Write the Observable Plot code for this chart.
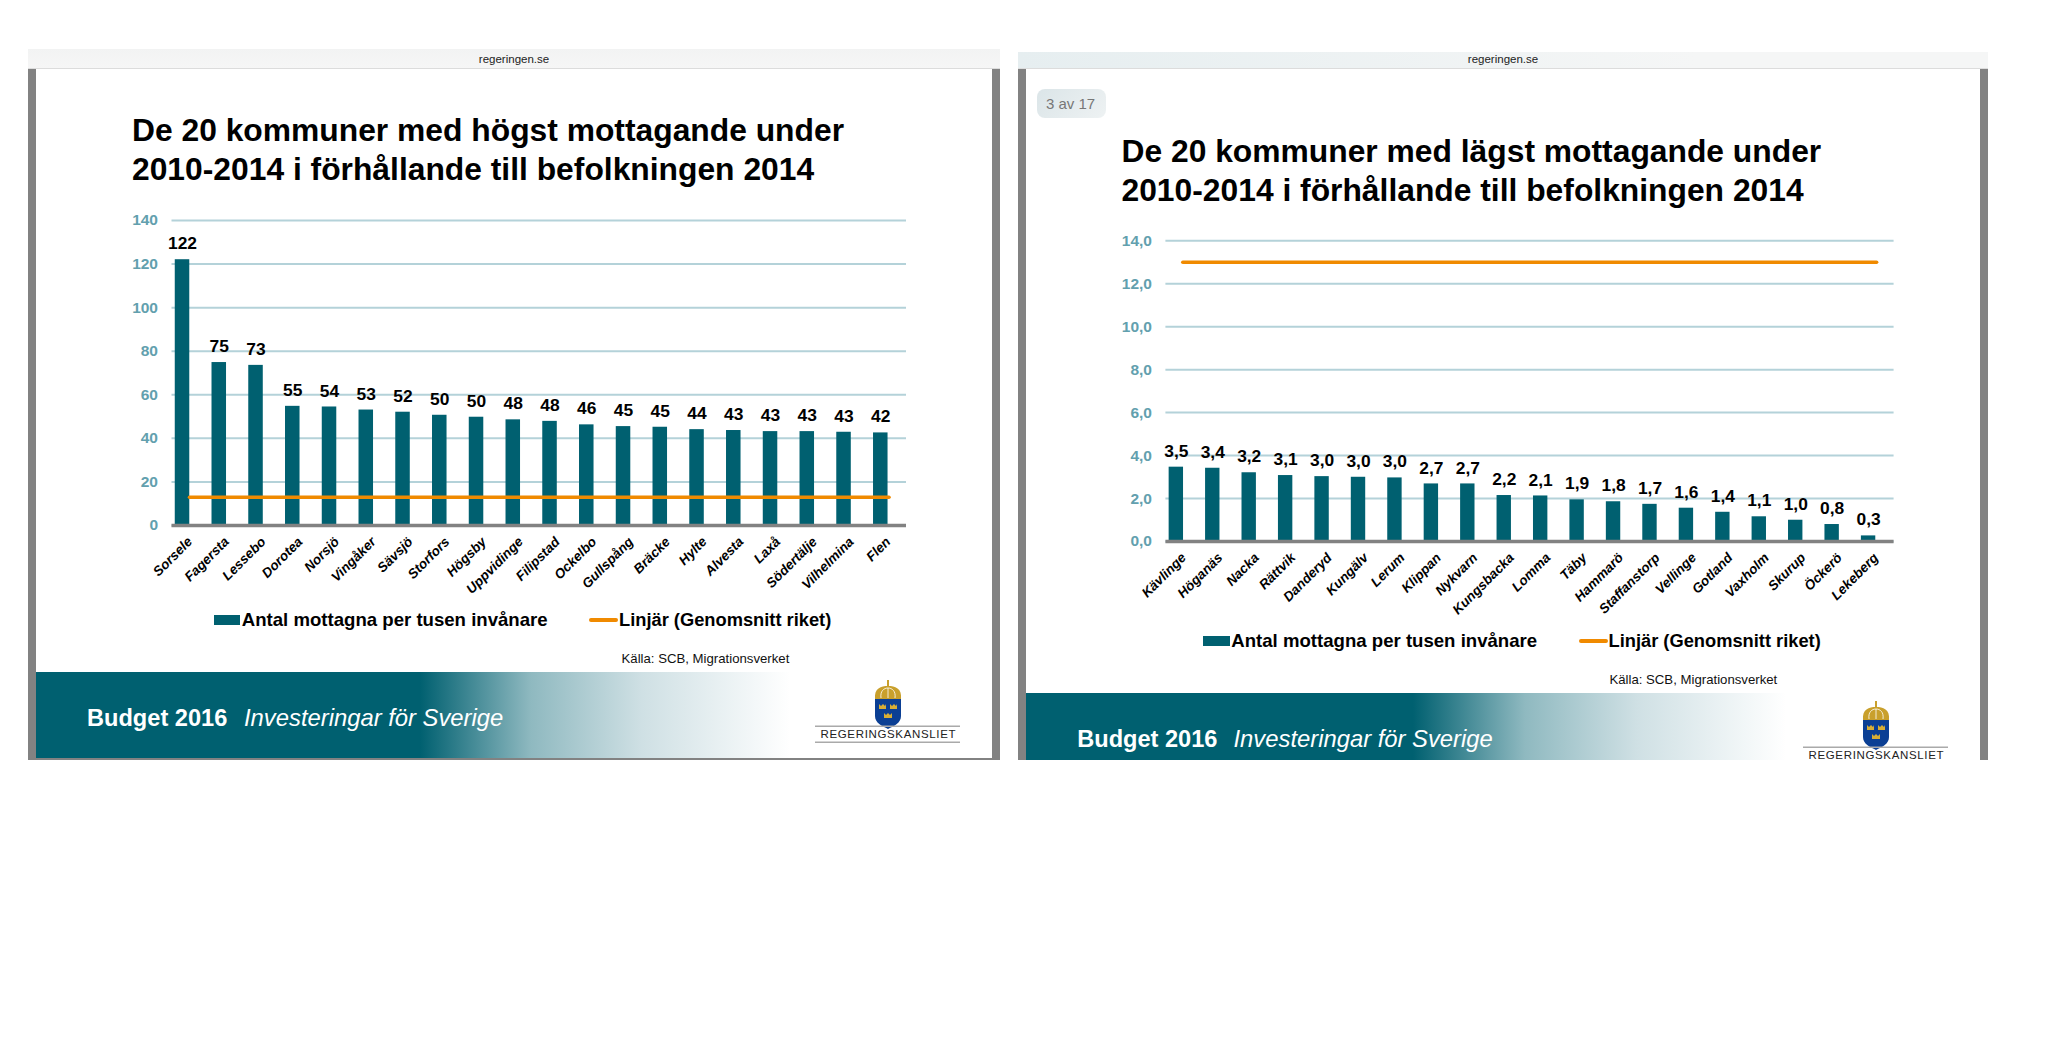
<!DOCTYPE html>
<html lang="sv"><head><meta charset="utf-8">
<script src="https://cdn.jsdelivr.net/npm/d3@7"></script>
<script src="https://cdn.jsdelivr.net/npm/@observablehq/plot@0.6"></script>
<style>
html,body{margin:0;padding:0;background:#fff;width:2047px;height:1061px;overflow:hidden;font-family:"Liberation Sans",Arial,sans-serif}
.abs{position:absolute;white-space:nowrap}
.abs svg{display:block}
</style></head><body>
<script>
const highNames = ["Sorsele","Fagersta","Lessebo","Dorotea","Norsjö","Vingåker","Sävsjö","Storfors","Högsby","Uppvidinge","Filipstad","Ockelbo","Gullspång","Bräcke","Hylte","Alvesta","Laxå","Södertälje","Vilhelmina","Flen"];
const highValues = [122,74.8,73.5,54.7,54.4,53,52,50.6,49.7,48.5,47.8,46.2,45.4,45.1,44,43.6,43.1,43.1,42.8,42.5];
const highLabels = ["122","75","73","55","54","53","52","50","50","48","48","46","45","45","44","43","43","43","43","42"];
const highTicks = [0,20,40,60,80,100,120,140];
const highTickLabels = ["0","20","40","60","80","100","120","140"];

const lowNames = ["Kävlinge","Höganäs","Nacka","Rättvik","Danderyd","Kungälv","Lerum","Klippan","Nykvarn","Kungsbacka","Lomma","Täby","Hammarö","Staffanstorp","Vellinge","Gotland","Vaxholm","Skurup","Öckerö","Lekeberg"];
const lowValues = [3.46,3.41,3.2,3.07,3.02,2.99,2.96,2.68,2.68,2.14,2.12,1.94,1.85,1.73,1.55,1.36,1.15,0.99,0.79,0.26];
const lowLabels = ["3,5","3,4","3,2","3,1","3,0","3,0","3,0","2,7","2,7","2,2","2,1","1,9","1,8","1,7","1,6","1,4","1,1","1,0","0,8","0,3"];
const lowTicks = [0,2,4,6,8,10,12,14];
const lowTickLabels = ["0,0","2,0","4,0","6,0","8,0","10,0","12,0","14,0"];

const averageHigh = 13;
const averageLow = 13;
const TEAL = "#006070", ORANGE = "#f08a00", GRID = "#b4d2d9", TICK = "#62a0ae", GREY = "#828282";

function el(css, html, parent = document.body) {
  const d = document.createElement("div");
  d.className = "abs";
  d.style.cssText = css;
  if (html !== undefined) d.innerHTML = html;
  parent.appendChild(d);
  return d;
}

function chart({names, values, labels, ticks, tickLabels, average, yMax, left, top, gridLeft, gridRight, zeroY, topY, insetL, insetR}) {
  const rows = names.map((name, i) => ({name, value: values[i], label: labels[i]}));
  const marginLeft = gridLeft - left, marginRight = 20, marginTop = topY - top, marginBottom = 100;
  const fig = Plot.plot({
    width: gridRight - left + marginRight,
    height: zeroY - top + marginBottom,
    marginLeft, marginRight, marginTop, marginBottom,
    style: {background: "transparent", fontFamily: '"Liberation Sans",Arial,sans-serif', overflow: "visible"},
    x: {domain: names, paddingInner: 0.605, paddingOuter: 0.2955, align: 0.15, round: false, label: null},
    y: {domain: [0, yMax], label: null},
    marks: [
      Plot.gridY(ticks, {stroke: GRID, strokeOpacity: 1, strokeWidth: 2}),
      Plot.barY(rows, {x: "name", y: "value", fill: TEAL}),
      Plot.ruleY([0], {stroke: GREY, strokeWidth: 3.5}),
      Plot.ruleY([average], {stroke: ORANGE, strokeWidth: 3.6, insetLeft: insetL, insetRight: insetR, strokeLinecap: "round"}),
      Plot.text(rows, {x: "name", y: "value", text: "label", dy: -16, fontSize: 17.4, fontWeight: 700, fill: "#000"}),
      Plot.axisY(ticks, {tickSize: 0, tickPadding: 14, tickFormat: (d, i) => tickLabels[i], fontSize: 15.5, fontWeight: 700, fill: TICK, label: null}),
      Plot.axisX({tickSize: 0, tickPadding: 14, tickRotate: -45, fontSize: 13.5, fontWeight: 700, fontStyle: "italic", fill: "#000", label: null, dx: 7.5, lineWidth: 30})
    ]
  });
  el(`left:${left}px;top:${top}px`, "").appendChild(fig);
}

function panel({x0, x1, headTop, headBg, footTop, footBottom, solid, fadeEnd, title, titleX, titleBase, legendDx, legendDy, sourceX, sourceBase, budgetX, budgetBase, italicX, logoDx, logoDy}) {
  el(`left:${x0}px;top:69px;width:${x1 - x0}px;height:${760 - 69}px;background:${GREY}`);
  el(`left:${x0 + 8}px;top:69px;width:${x1 - x0 - 16}px;height:${footBottom - 69}px;background:#fff`);
  el(`left:${x0}px;top:${headTop}px;width:${x1 - x0}px;height:${69 - headTop}px;background:${headBg};border-bottom:1px solid #dcdcdc;box-sizing:border-box;text-align:center;font-size:11.5px;line-height:${2 * (59 - headTop)}px;color:#222;overflow:hidden`, "regeringen.se");
  el(`left:${x0 + 8}px;top:${footTop}px;width:${x1 - x0 - 16}px;height:${footBottom - footTop}px;background:linear-gradient(90deg,${TEAL} 0,${TEAL} ${solid - x0 - 8}px,#8fb9c0 ${solid - x0 - 8 + (fadeEnd - solid) * .3}px,#cfe0e4 ${solid - x0 - 8 + (fadeEnd - solid) * .6}px,#fff ${fadeEnd - x0 - 8}px)`);
  title.forEach((t, i) => el(`left:${titleX}px;top:${titleBase[i] - 29}px;font:700 31.8px/36px 'Liberation Sans';color:#000`, t));
  const ldx = legendDx, ldy = legendDy;
  el(`left:${213.5 + ldx}px;top:${615 + ldy}px;width:26.5px;height:10px;background:${TEAL}`);
  el(`left:${241.8 + ldx}px;top:${609.8 + ldy}px;font:700 18.6px/20px 'Liberation Sans';color:#000`, "Antal mottagna per tusen invånare");
  el(`left:${589 + ldx}px;top:${618 + ldy}px;width:29px;height:4px;border-radius:2px;background:${ORANGE}`);
  el(`left:${619 + ldx}px;top:${609.8 + ldy}px;font:700 18.3px/20px 'Liberation Sans';color:#000`, "Linjär (Genomsnitt riket)");
  el(`left:${sourceX}px;top:${sourceBase - 12}px;font:400 13.2px/15px 'Liberation Sans';color:#111`, "Källa: SCB, Migrationsverket");
  el(`left:${budgetX}px;top:${budgetBase - 21}px;font:700 23.6px/28px 'Liberation Sans';color:#fff`, "Budget 2016");
  el(`left:${italicX}px;top:${budgetBase - 21}px;font:italic 400 23.8px/28px 'Liberation Sans';color:#fff`, "Investeringar för Sverige");
  // Regeringskansliet emblem
  el(`left:${815 + logoDx}px;top:${678 + logoDy}px;width:146px;height:${footBottom - 678 - logoDy}px;overflow:hidden`,
    `<svg width="146" height="70" viewBox="0 0 146 70">
      <path d="M60 21 C59 10 66 8 73 8 C80 8 87 10 86 21 Z" fill="#c9a02c"/>
      <path d="M66 20 C65 13 69 10 73 10 C77 10 81 13 80 20" fill="none" stroke="#fff" stroke-width=".8"/>
      <path d="M73 20V10" stroke="#fff" stroke-width=".8"/>
      <rect x="72" y="2" width="2" height="6" fill="#c9a02c"/>
      <path d="M60 21H86V38C86 45 79 48 73 51C67 48 60 45 60 38Z" fill="#0b3f94"/>
      <path d="M64 26l2 2 2-2 2 2 1-2v5h-7zM75 26l2 2 2-2 2 2 1-2v5h-7zM69 35l2 2 2-2 2 2 2-2v5h-8z" fill="#d8ae35"/>
      <rect x="0" y="47.5" width="145" height="1.5" fill="#aaa"/>
      <rect x="0" y="63.5" width="145" height="1.5" fill="#aaa"/>
      <text x="73" y="60" text-anchor="middle" font-family="Liberation Sans" font-size="11.5" textLength="135" lengthAdjust="spacing" fill="#222">REGERINGSKANSLIET</text>
    </svg>`);
}

panel({x0: 28, x1: 1000, headTop: 49, headBg: "linear-gradient(180deg,#f2f3f3,#f6f6f6)", footTop: 672, footBottom: 758, solid: 420, fadeEnd: 790,
  title: ["De 20 kommuner med högst mottagande under", "2010-2014 i förhållande till befolkningen 2014"], titleX: 132, titleBase: [141.2, 179.7],
  legendDx: 0, legendDy: 0, sourceX: 621.5, sourceBase: 662.5, budgetX: 87, budgetBase: 724.5, italicX: 244, logoDx: 0, logoDy: 0});

panel({x0: 1018, x1: 1988, headTop: 52, headBg: "linear-gradient(90deg,#e6eef0,#f5f6f6 70%)", footTop: 693, footBottom: 760, solid: 1413, fadeEnd: 1786,
  title: ["De 20 kommuner med lägst mottagande under", "2010-2014 i förhållande till befolkningen 2014"], titleX: 1121.5, titleBase: [162.2, 200.7],
  legendDx: 989.5, legendDy: 21, sourceX: 1609.4, sourceBase: 684, budgetX: 1077.2, budgetBase: 745.5, italicX: 1233.5, logoDx: 988, logoDy: 21});

el("left:1037px;top:89px;width:69px;height:29px;border-radius:8px;background:linear-gradient(135deg,#dbe5e8,#eef2f3);font:400 15px/29px 'Liberation Sans';color:#777;text-indent:9px", "3 av 17");

chart({names: highNames, values: highValues, labels: highLabels, ticks: highTicks, tickLabels: highTickLabels, average: averageHigh, yMax: 140,
  left: 100, top: 200, gridLeft: 171.5, gridRight: 906, zeroY: 525, topY: 220, insetL: 18, insetR: 17});
chart({names: lowNames, values: lowValues, labels: lowLabels, ticks: lowTicks, tickLabels: lowTickLabels, average: averageLow, yMax: 14,
  left: 1095, top: 220, gridLeft: 1165.4, gridRight: 1893.6, zeroY: 541, topY: 240.3, insetL: 17.4, insetR: 17});
</script>
</body></html>
